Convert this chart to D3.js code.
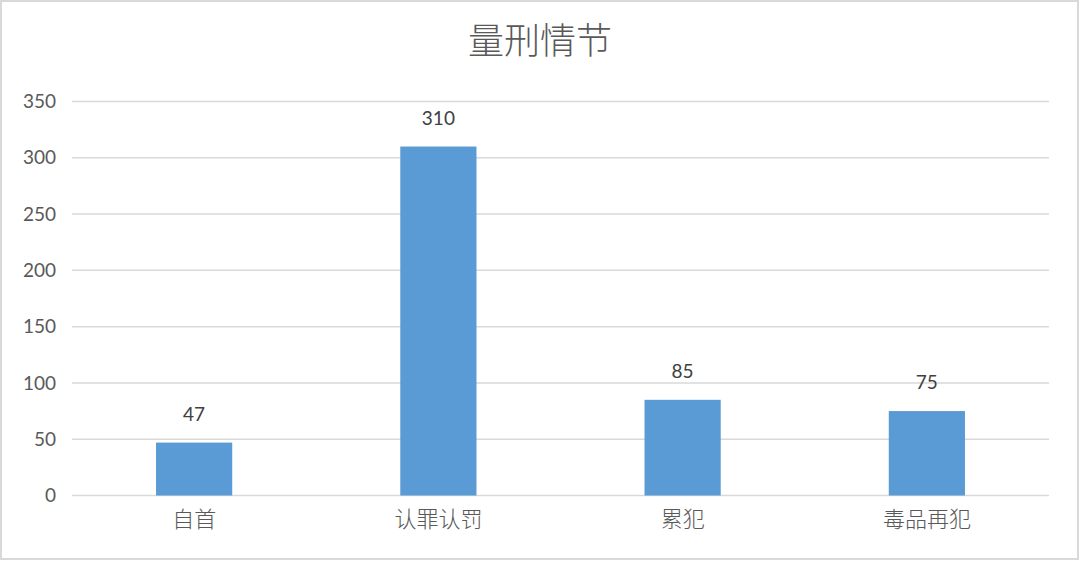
<!DOCTYPE html>
<html>
<head>
<meta charset="utf-8">
<script src="https://cdn.jsdelivr.net/npm/d3@7"></script>
<style>
  html, body { margin: 0; padding: 0; background: #fff; }
  svg { display: block; }
</style>
</head>
<body>
<svg id="chart" width="1080" height="561"></svg>
<script>
// Sentencing circumstances: case counts per category
const categories = ["自首", "认罪认罚", "累犯", "毒品再犯"];
const counts = [47, 310, 85, 75];
const yTicks = [0, 50, 100, 150, 200, 250, 300, 350];
const title = "量刑情节";

const W = 1080, H = 561;
const plot = { left: 72, right: 1049, top: 101.5, bottom: 495.5 };
const numFont = "Lato, 'Open Sans', 'Noto Sans', sans-serif";
const cjkFont = "'Noto Sans CJK SC', 'Noto Sans', sans-serif";

const svg = d3.select("#chart");

// outer frame
svg.append("rect")
  .attr("x", 1).attr("y", 1).attr("width", W - 3).attr("height", H - 3)
  .attr("fill", "#fff").attr("stroke", "#d9d9d9").attr("stroke-width", 2);

const x = d3.scaleBand().domain(categories).range([plot.left, plot.right]).padding(0);
const y = d3.scaleLinear().domain([0, 350]).range([plot.bottom, plot.top]);
const barW = x.bandwidth() * 0.312;

// gridlines
svg.append("g")
  .selectAll("line")
  .data(yTicks)
  .join("line")
  .attr("x1", plot.left).attr("x2", plot.right)
  .attr("y1", d => y(d)).attr("y2", d => y(d))
  .attr("stroke", "#d9d9d9").attr("stroke-width", 1.5);

// y tick labels
const yAxis = d3.axisLeft(y).tickValues(yTicks).tickSize(0).tickPadding(16);
const gy = svg.append("g").attr("transform", `translate(${plot.left},0)`).call(yAxis);
gy.select(".domain").remove();
gy.selectAll("text")
  .attr("font-family", numFont).attr("font-size", 19).attr("fill", "#595959");

// bars
svg.append("g")
  .selectAll("rect")
  .data(categories)
  .join("rect")
  .attr("x", d => x(d) + x.bandwidth() / 2 - barW / 2)
  .attr("width", barW)
  .attr("y", (d, i) => y(counts[i]))
  .attr("height", (d, i) => y(0) - y(counts[i]))
  .attr("fill", "#5b9bd5");

// value labels
svg.append("g")
  .selectAll("text")
  .data(categories)
  .join("text")
  .attr("x", d => x(d) + x.bandwidth() / 2)
  .attr("y", (d, i) => y(counts[i]) - 22)
  .attr("text-anchor", "middle")
  .attr("font-family", numFont).attr("font-size", 19).attr("fill", "#404040")
  .text((d, i) => counts[i]);

// category labels
const xAxis = d3.axisBottom(x).tickSize(0).tickPadding(16);
const gx = svg.append("g").attr("transform", `translate(0,${plot.bottom})`).call(xAxis);
gx.select(".domain").remove();
gx.selectAll("text")
  .attr("font-family", cjkFont).attr("font-size", 22).attr("font-weight", 300)
  .attr("fill", "#595959");

// title
svg.append("text")
  .attr("x", W / 2)
  .attr("y", 54)
  .attr("text-anchor", "middle")
  .attr("font-family", cjkFont).attr("font-size", 36).attr("font-weight", 300)
  .attr("fill", "#595959")
  .text(title);
</script>
</body>
</html>
